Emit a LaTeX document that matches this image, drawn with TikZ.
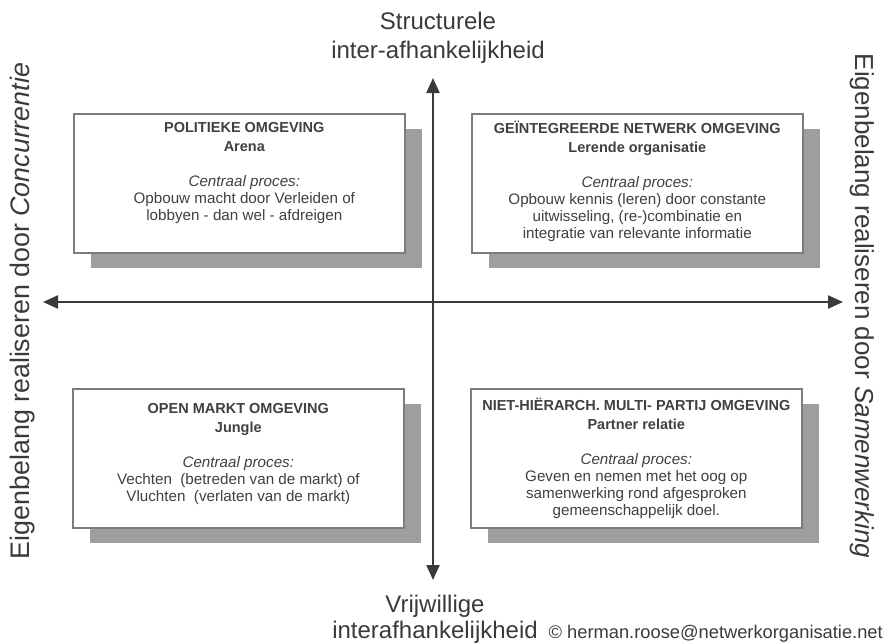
\documentclass[tikz,border=0pt]{standalone}
\usepackage{fontspec}
\setmainfont{Liberation Sans}
\usetikzlibrary{arrows.meta,shadows}

\definecolor{ink}{HTML}{3A3A3A}
\definecolor{boxline}{HTML}{7C7C7C}
\definecolor{shade}{HTML}{9E9E9E}
\definecolor{boxtext}{HTML}{404040}

\tikzset{
  axis/.style={draw=ink, line width=2.2pt,
    {Triangle[length=15pt,width=13pt]}-{Triangle[length=15pt,width=13pt]}},
  panel/.style={draw=boxline, line width=1.6pt, fill=white,
    minimum width=331pt, minimum height=139pt, inner sep=0pt,
    anchor=north west,
    drop shadow={shadow xshift=17pt, shadow yshift=-15pt, fill=shade, opacity=1}},
  paneltext/.style={align=center, text=boxtext, inner sep=0pt, anchor=north,
    font=\fontsize{15.2}{17}\selectfont},
  axislabel/.style={align=center, text=ink, inner sep=0pt,
    font=\fontsize{24}{28}\selectfont},
  sidelabel/.style={text=ink, inner sep=0pt, anchor=base},
}
\newcommand{\paneltitle}[1]{{\fontsize{14.5}{17}\selectfont\bfseries #1}}

\begin{document}
\begin{tikzpicture}[x=1pt,y=-1pt]
  \useasboundingbox (0,0) rectangle (885,643);

  % axes
  \coordinate (ytop) at (433,78);
  \coordinate (ybot) at (433,580);
  \coordinate (xleft) at (43,302);
  \coordinate (xright) at (843,302);
  \draw[axis] (ybot) -- (ytop);
  \draw[axis] (xleft) -- (xright);

  % axis labels
  \node[axislabel, anchor=north, font=\fontsize{24}{29}\selectfont] (toplabel) at (438,12)
    {Structurele\\inter-afhankelijkheid};
  \node[axislabel, anchor=north, font=\fontsize{24}{26}\selectfont] (botlabel) at (435,595)
    {Vrijwillige\\interafhankelijkheid};
  \node[sidelabel, rotate=90, font=\fontsize{26.8}{30}\selectfont] (leftlabel) at (29,311)
    {Eigenbelang realiseren door \textit{Concurrentie}};
  \node[sidelabel, rotate=-90, font=\fontsize{26}{30}\selectfont] (rightlabel) at (855,306)
    {Eigenbelang realiseren door \textit{Samenwerking}};
  \node[text=ink, inner sep=0pt, anchor=base east,
        font=\fontsize{18.3}{22}\selectfont] (copy) at (883,638)
    {© herman.roose@netwerkorganisatie.net};

  % quadrant panels
  \node[panel] (pol) at (73,113) {};
  \node[panel] (net) at (471,113) {};
  \node[panel] (mkt) at (72,388) {};
  \node[panel] (prt) at (470,388) {};

  \node[paneltext] (poltext) at ([xshift=5pt,yshift=-9pt]pol.north)
    {\paneltitle{POLITIEKE OMGEVING}\\[2.5pt]
     \paneltitle{Arena}\\[17.5pt]
     \textit{Centraal proces:}\\
     Opbouw macht door Verleiden of\\
     lobbyen - dan wel - afdreigen};

  \node[paneltext] (nettext) at ([yshift=-10pt]net.north)
    {\paneltitle{GE\smash{Ï}NTEGREERDE NETWERK OMGEVING}\\[2.5pt]
     \paneltitle{Lerende organisatie}\\[17.5pt]
     \textit{Centraal proces:}\\
     Opbouw kennis (leren) door constante\\
     uitwisseling, (re-)combinatie en\\
     integratie van relevante informatie};

  \node[paneltext] (mkttext) at ([yshift=-15pt]mkt.north)
    {\paneltitle{OPEN MARKT OMGEVING}\\[2.5pt]
     \paneltitle{Jungle}\\[17.5pt]
     \textit{Centraal proces:}\\
     Vechten\ \ (betreden van de markt) of\\
     Vluchten\ \ (verlaten van de markt)};

  \node[paneltext] (prttext) at ([yshift=-12pt]prt.north)
    {\paneltitle{NIET-HI\smash{Ë}RARCH. MULTI- PARTIJ OMGEVING}\\[2.5pt]
     \paneltitle{Partner relatie}\\[17.5pt]
     \textit{Centraal proces:}\\
     Geven en nemen met het oog op\\
     samenwerking rond afgesproken\\
     gemeenschappelijk doel.};
\end{tikzpicture}
\end{document}
